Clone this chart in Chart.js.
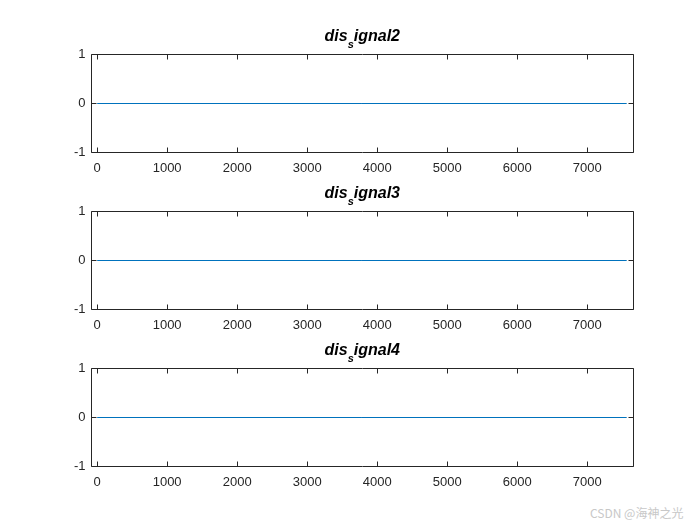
<!DOCTYPE html>
<html>
<head>
<meta charset="utf-8">
<script src="https://cdn.jsdelivr.net/npm/chart.js@4/dist/chart.umd.min.js"></script>
<style>
html,body{margin:0;padding:0;background:#fff;}
#wrap{position:relative;width:700px;height:525px;overflow:hidden;}
.cv{position:absolute;left:0;width:700px;height:157px;}
#wm{position:absolute;left:590px;top:504px;font:12px "Noto Sans CJK SC","Liberation Sans",sans-serif;color:#c8c8c8;white-space:nowrap;}
</style>
</head>
<body>
<div id="wrap">
<canvas id="c1" class="cv" width="700" height="157" style="top:20px"></canvas>
<canvas id="c2" class="cv" width="700" height="157" style="top:177px"></canvas>
<canvas id="c3" class="cv" width="700" height="157" style="top:334px"></canvas>
<div id="wm">CSDN @海神之光</div>
</div>
<script>
// Data
const titles = [["dis","s","ignal2"],["dis","s","ignal3"],["dis","s","ignal4"]];
const sampleX = [1, 7563];
const signal2 = [0, 0];
const signal3 = [0, 0];
const signal4 = [0, 0];
const xTicks = [0,1000,2000,3000,4000,5000,6000,7000];
const yTicks = [-1,0,1];
const xLimits = [-80, 7653];
const yLimits = [-1, 1];

const series = [signal2, signal3, signal4];
const axisColor = '#262626';

const boxTicks = {
  id:'boxTicks',
  afterDraw(chart){
    const ctx = chart.ctx, a = chart.chartArea;
    const xs = chart.scales.x, ys = chart.scales.y;
    const L = Math.floor(a.left)+0.5, R = Math.floor(a.right)+0.5, T = Math.floor(a.top)+0.5, B = Math.floor(a.bottom)+0.5;
    ctx.save();
    ctx.strokeStyle = axisColor; ctx.lineWidth = 1;
    ctx.beginPath();
    ctx.rect(L, T, R-L, B-T);
    const tl = 5;
    xs.ticks.forEach(t=>{
      const px = Math.floor(xs.getPixelForValue(t.value))+0.5;
      ctx.moveTo(px,B); ctx.lineTo(px,B-tl);
      ctx.moveTo(px,T); ctx.lineTo(px,T+tl);
    });
    ys.ticks.forEach(t=>{
      const py = Math.floor(ys.getPixelForValue(t.value))+0.5;
      ctx.moveTo(L,py); ctx.lineTo(L+tl,py);
      ctx.moveTo(R,py); ctx.lineTo(R-tl,py);
    });
    ctx.stroke();
    // title with subscript
    const parts = chart.options.plugins.subTitle.parts;
    const big = 'italic bold 16px "Liberation Sans", Arial, sans-serif';
    const small = 'italic bold 11px "Liberation Sans", Arial, sans-serif';
    ctx.font = big; const w1 = ctx.measureText(parts[0]).width, w3 = ctx.measureText(parts[2]).width;
    ctx.font = small; const w2 = ctx.measureText(parts[1]).width;
    const cx = (a.left + a.right)/2;
    let x = cx - (w1+w2+w3)/2;
    const base = 21;
    ctx.fillStyle = '#000'; ctx.textBaseline = 'alphabetic'; ctx.textAlign='left';
    ctx.font = big; ctx.fillText(parts[0], x, base); x += w1;
    ctx.font = small; ctx.fillText(parts[1], x, base+7); x += w2;
    ctx.font = big; ctx.fillText(parts[2], x, base);
    ctx.restore();
  }
};

['c1','c2','c3'].forEach((id,i)=>{
  new Chart(document.getElementById(id), {
    type:'line',
    data:{ datasets:[{ data: sampleX.map((x,k)=>({x:x,y:series[i][k]})), borderColor:'#0072BD', borderWidth:1, pointRadius:0, tension:0, fill:false }]},
    options:{
      responsive:false, animation:false, devicePixelRatio:1,
      layout:{ padding:{ top:34.5, right:67, bottom:0, left:0 } },
      plugins:{ legend:{display:false}, tooltip:{enabled:false}, title:{display:false}, subTitle:{parts:titles[i]} },
      scales:{
        x:{ type:'linear', min:xLimits[0], max:xLimits[1],
            afterBuildTicks(s){ s.ticks = xTicks.map(v=>({value:v})); },
            afterFit(s){ s.height = 24.5; },
            grid:{display:false, drawTicks:false}, border:{display:false},
            ticks:{ color:axisColor, font:{family:'"Liberation Sans", Arial, sans-serif', size:13}, padding:8, maxRotation:0, autoSkip:false, callback:v=>String(v) } },
        y:{ type:'linear', min:yLimits[0], max:yLimits[1],
            afterBuildTicks(s){ s.ticks = yTicks.map(v=>({value:v})); },
            afterFit(s){ s.width = 91.5; },
            grid:{display:false, drawTicks:false}, border:{display:false},
            ticks:{ color:axisColor, font:{family:'"Liberation Sans", Arial, sans-serif', size:13}, padding:6, callback:v=>String(v) } }
      }
    },
    plugins:[boxTicks]
  });
});
</script>
</body>
</html>
